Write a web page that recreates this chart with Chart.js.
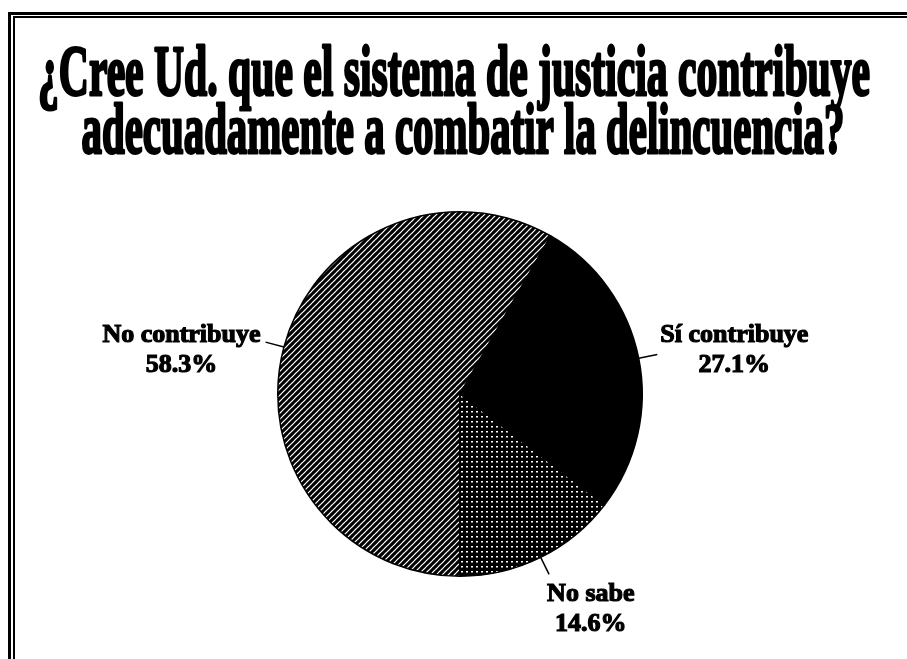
<!DOCTYPE html>
<html>
<head>
<meta charset="utf-8">
<script src="https://cdn.jsdelivr.net/npm/chart.js@4/dist/chart.umd.min.js"></script>
<style>
  body { margin: 0; background: #fff; }
  #wrap { width: 907px; height: 659px; position: relative; }
</style>
</head>
<body>
<div id="wrap"><canvas id="myChart" width="907" height="659"></canvas></div>
<script>
// data
var titleLines = ['¿Cree Ud. que el sistema de justicia contribuye', 'adecuadamente a combatir la delincuencia?'];
var categories = ['No contribuye', 'Sí contribuye', 'No sabe'];
var percentages = [58.3, 27.1, 14.6];

var ctx = document.getElementById('myChart').getContext('2d');

// fill patterns like the printed original
function hatchPattern() {
    var c = document.createElement('canvas');
    c.width = 6; c.height = 6;
    var g = c.getContext('2d');
    g.fillStyle = '#fff';
    g.fillRect(0, 0, 6, 6);
    g.strokeStyle = '#000';
    g.lineWidth = 3.1;
    g.beginPath();
    g.moveTo(-1, 7); g.lineTo(7, -1);
    g.moveTo(-1, 1); g.lineTo(1, -1);
    g.moveTo(5, 7); g.lineTo(7, 5);
    g.stroke();
    return ctx.createPattern(c, 'repeat');
}
function dotPattern() {
    var c = document.createElement('canvas');
    c.width = 5; c.height = 5;
    var g = c.getContext('2d');
    g.fillStyle = '#000';
    g.fillRect(0, 0, 5, 5);
    g.fillStyle = '#fff';
    g.fillRect(1, 1, 2, 1.5);
    return ctx.createPattern(c, 'repeat');
}

// frame (top and left edges only, the rest is cut off in the scan)
var framePlugin = {
    id: 'frame',
    beforeDraw: function (chart) {
        var c = chart.ctx;
        c.save();
        c.fillStyle = '#fff';
        c.fillRect(0, 0, chart.width, chart.height);
        c.fillStyle = '#000';
        c.fillRect(8, 12, chart.width, 3);
        c.fillRect(13, 16, chart.width, 2);
        c.fillRect(8, 12, 3, chart.height);
        c.fillRect(13, 16, 2, chart.height);
        c.restore();
    }
};

// condensed bold title
var titlePlugin = {
    id: 'bigTitle',
    afterDraw: function (chart) {
        var c = chart.ctx;
        var spec = [
            { cx: 454, y: 95, w: 832 },
            { cx: 463, y: 153, w: 763 }
        ];
        c.save();
        c.font = 'bold 72px "Liberation Serif", "Times New Roman", serif';
        c.textAlign = 'center';
        c.textBaseline = 'alphabetic';
        c.fillStyle = '#000';
        c.strokeStyle = '#000';
        c.lineWidth = 3;
        c.lineJoin = 'round';
        titleLines.forEach(function (line, i) {
            var s = spec[i];
            var sx = s.w / c.measureText(line).width;
            c.save();
            c.translate(s.cx, s.y);
            c.scale(sx, 1);
            c.strokeText(line, 0, 0);
            c.fillText(line, 0, 0);
            c.restore();
        });
        c.restore();
    }
};

// outside labels with short leader lines
var labelPlugin = {
    id: 'outLabels',
    afterDatasetsDraw: function (chart) {
        var c = chart.ctx;
        var arcs = chart.getDatasetMeta(0).data;
        c.save();
        c.font = 'bold 26px "Liberation Serif", "Times New Roman", serif';
        c.fillStyle = '#000';
        c.strokeStyle = '#000';
        c.textBaseline = 'middle';
        c.textAlign = 'center';
        arcs.forEach(function (arc, i) {
            var p = arc.getProps(['x', 'y', 'startAngle', 'endAngle', 'outerRadius'], true);
            var mid = (p.startAngle + p.endAngle) / 2;
            var cs = Math.cos(mid), sn = Math.sin(mid);
            var x0 = p.x + cs * p.outerRadius, y0 = p.y + sn * p.outerRadius;
            var x1 = p.x + cs * (p.outerRadius + 19), y1 = p.y + sn * (p.outerRadius + 19);
            c.lineWidth = 1.5;
            c.beginPath();
            c.moveTo(x0, y0);
            c.lineTo(x1, y1);
            c.stroke();

            var l1 = categories[i];
            var l2 = percentages[i].toFixed(1) + '%';
            var w1 = c.measureText(l1).width;
            var bx, ya, yb;
            if (sn > 0.8) {
                bx = x1 + w1 / 2 - 2; ya = y1 + 20; yb = y1 + 50;
            } else if (cs < 0) {
                bx = x1 - 5 - w1 / 2; ya = y1 - 7; yb = y1 + 23;
            } else {
                bx = x1 + 3 + w1 / 2; ya = y1 - 19; yb = y1 + 11;
            }
            c.lineWidth = 1.2;
            c.strokeText(l1, bx, ya);
            c.fillText(l1, bx, ya);
            c.strokeText(l2, bx, yb);
            c.fillText(l2, bx, yb);
        });
        c.restore();
    }
};

var chart = new Chart(ctx, {
    type: 'pie',
    data: {
        labels: categories,
        datasets: [{
            data: percentages,
            backgroundColor: [hatchPattern(), '#000', dotPattern()],
            borderColor: '#000',
            borderWidth: 1.5
        }]
    },
    options: {
        responsive: false,
        animation: false,
        rotation: 180,
        layout: {
            padding: { left: 277, right: 264, top: 208, bottom: 79 }
        },
        plugins: {
            legend: { display: false },
            tooltip: { enabled: false },
            title: { display: false }
        }
    },
    plugins: [framePlugin, titlePlugin, labelPlugin]
});
</script>
</body>
</html>
